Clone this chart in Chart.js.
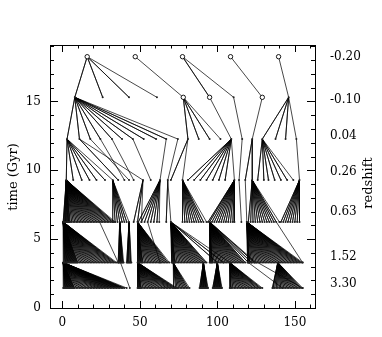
<!DOCTYPE html>
<html><head><meta charset="utf-8">
<script src="https://cdn.jsdelivr.net/npm/chart.js@4/dist/chart.umd.min.js"></script>
<style>html,body{margin:0;padding:0;background:#fff}</style>
</head><body>
<canvas id="c" width="382" height="337"></canvas>
<script>
// time (Gyr) of each tree tier, top (latest) to bottom (earliest)
const tierTimes = [18.25, 15.3, 12.27, 9.29, 6.25, 3.3, 1.45];
// right-axis redshift labels and where they sit on the time axis
const redshiftLabels = ['-0.20', '-0.10', '0.04', '0.26', '0.63', '1.52', '3.30'];
const redshiftLabelTimes = [18.23, 15.1, 12.5, 9.88, 6.97, 3.7, 1.75];
const xTickLabels = [0, 50, 100, 150];
const yTickLabels = [0, 5, 10, 15];

// each entry: [parent x, child x, child x, ...] between consecutive tiers
const links01 = [
  [16, 8, 26, 43, 61],
  [47, 78],
  [77.5, 95, 110.5],
  [108.5, 129],
  [139.5, 146]
];
const links12 = [
  [8, 3, 11, 18, 24.5, 32, 38.5, 45.5, 52.5, 60.5, 67, 74.5],
  [78, 81, 88, 95, 102],
  [95, 109],
  [110.5, 116],
  [129, 122.5],
  [146, 129, 137.5, 144, 151]
];
const links23 = [
  [3, 2.5, 7, 12.5, 17.5, 22, 27.5, 32.5],
  [11, 36, 52],
  [18, 43],
  [24.5, 40],
  [32, 46],
  [45.5, 57],
  [67, 63],
  [74.5, 68],
  [81, 70, 77.5],
  [109, 81, 85, 89, 93, 97, 101, 105, 111],
  [116, 114],
  [122.5, 118, 122.5],
  [129, 126, 130, 133, 137, 141, 145, 149],
  [151, 153]
];
const links34 = [
  [2.5, 0.5, 1, 1.5, 2, 2.5, 3, 3.5, 4, 4.5, 5, 6, 7, 8, 9, 10, 11, 12, 13, 14, 15, 16, 17, 18, 19, 20, 21, 22, 23, 24, 25, 26, 27, 28, 29, 30, 31, 32, 33, 34],
  [32.5, 32.5, 34, 35.5, 37, 38.5, 40, 41.5, 43],
  [52, 46, 48.5, 51],
  [63, 49, 51, 53, 55, 57, 59, 61, 62.5],
  [68, 67, 70],
  [77.5, 77.5, 79, 80.5, 82, 83.5, 85, 86.5, 88, 89.5, 91, 93],
  [111, 94, 95, 96.5, 98, 99.5, 101, 102.5, 104, 105.5, 107, 108.5, 110, 111],
  [114, 115.5],
  [118, 119],
  [122.5, 120, 121.5, 123, 124.5, 126, 127.5, 129, 130.5, 132, 133.5, 135, 136.5, 138, 140],
  [153, 141, 142.5, 144, 145.5, 147, 148.5, 150, 151.5, 153]
];
const links45 = [
  [0.5, 0.5, 1, 1.5, 2, 2.5, 3, 3.5, 4, 4.5, 5, 5.5, 6, 6.5, 7, 7.5, 8, 8.5, 9, 9.5, 10, 11, 12, 13, 14, 15, 16, 17, 18, 19, 20, 21, 22, 23, 24, 25, 26, 27, 28, 29, 30, 31, 32, 33, 34, 35],
  [24, 36],
  [37, 36, 36.5, 37, 37.5, 38, 38.5, 39, 39.5],
  [43, 41.5, 42, 42.5, 43, 43.5, 44, 44.5],
  [48.5, 48.5, 49, 49.5, 50, 50.5, 51, 51.5, 52, 53, 54, 55, 56, 57, 58, 59, 60, 61, 62, 63, 64, 65, 66, 67, 68, 69],
  [55, 63],
  [70, 70.5, 71, 71.5, 72, 72.5, 73, 74, 75, 76, 77, 78, 79, 80, 81, 82, 83, 84, 85, 86, 87, 88, 89, 90, 91, 92, 93, 100, 104, 108],
  [95, 95, 95.5, 96, 96.5, 97, 98, 99, 100, 101, 102, 103, 104, 105, 106, 107, 108, 109, 110, 111, 112, 113, 114, 115, 116, 117, 118, 120, 122, 124, 125],
  [119, 119.5, 120, 120.5, 121, 122, 123, 124, 125, 126, 127, 128, 129, 130, 131, 132, 133, 134, 135, 136, 137, 138, 139, 140, 141, 142, 143, 144, 145, 146, 147, 148, 149, 150, 151, 152, 153, 154, 155],
  [138, 155]
];
const links56 = [
  [0.5, 0.5, 1, 1.5, 2, 2.5, 3, 3.5, 4, 4.5, 5, 5.5, 6, 6.5, 7, 7.5, 8, 9, 10, 11, 12, 13, 14, 15, 16, 17, 18, 19, 20, 21, 22, 23, 24, 25, 26, 27, 28, 29, 30, 31, 32, 33, 34, 35, 36, 37, 38, 39, 40, 41.5],
  [37.5, 43.5],
  [48.5, 48.5, 49, 49.5, 50, 50.5, 51, 52, 53, 54, 55, 56, 57, 58, 59, 60, 61, 62, 63, 64, 65, 66, 67, 68, 69, 70, 71, 72, 73, 74],
  [71.5, 72, 73, 74, 75, 76, 77, 78, 79, 80, 81, 82],
  [91, 88.5, 89, 89.5, 90, 90.5, 91, 91.5, 92, 92.5, 93, 93.5, 94],
  [100, 97, 97.5, 98, 98.5, 99, 99.5, 100, 100.5, 101, 101.5, 102, 102.5, 103],
  [108, 108, 108.5, 109, 110, 111, 112, 113, 114, 115, 116, 117, 118, 119, 120, 121, 122, 123, 124, 125, 126, 127, 128, 129],
  [120, 142],
  [126, 155],
  [139, 135.5, 136, 137, 138, 139, 140, 141, 142, 143, 144, 145, 146, 147, 148, 149, 150, 151, 152, 153, 154, 155]
];
// tier-1 progenitors drawn with open rings
const ringedTier1 = [78, 95, 129];

const allLinks = [links01, links12, links23, links34, links45, links56];
const datasets = [];
const nodePts = [];
allLinks.forEach((level, k) => {
  level.forEach(fan => {
    const p = fan[0];
    const data = [];
    fan.slice(1).forEach(c => {
      data.push({x: p, y: tierTimes[k]}, {x: c, y: tierTimes[k + 1]});
      nodePts.push({x: c, y: tierTimes[k + 1]});
    });
    datasets.push({data, showLine: true, borderColor: 'rgba(0,0,0,0.9)', borderWidth: 0.8,
      pointRadius: 0, tension: 0, order: 3});
  });
});
datasets.push({data: nodePts, showLine: false, pointRadius: 1, pointBackgroundColor: '#222',
  pointBorderWidth: 0, order: 1});
datasets.push({data: links01.map(f => ({x: f[0], y: tierTimes[0]})).concat(ringedTier1.map(v => ({x: v, y: tierTimes[1]}))),
  showLine: false, pointRadius: 2.2, pointBackgroundColor: '#fff', pointBorderColor: '#000',
  pointBorderWidth: 0.9, order: 0});

const SERIF = '"DejaVu Serif", "Liberation Serif", serif';

const frame = {
  id: 'frame',
  afterDraw(chart) {
    const {ctx, chartArea: a, scales} = chart;
    const xs = scales.x, ys = scales.y;
    ctx.save();
    ctx.strokeStyle = '#000';
    ctx.lineWidth = 1;
    ctx.strokeRect(Math.round(a.left) + 0.5, Math.round(a.top) + 0.5, Math.round(a.right - a.left), Math.round(a.bottom - a.top));
    ctx.beginPath();
    for (let v = 0; v <= ys.max; v += 1) {
      const y = Math.round(ys.getPixelForValue(v)) + 0.5;
      const len = v % 5 === 0 ? 8 : 4;
      ctx.moveTo(a.left, y); ctx.lineTo(a.left + len, y);
      ctx.moveTo(a.right, y); ctx.lineTo(a.right - len, y);
    }
    for (let v = 0; v <= xs.max; v += 10) {
      const x = Math.round(xs.getPixelForValue(v)) + 0.5;
      const len = v % 50 === 0 ? 7 : 3.5;
      ctx.moveTo(x, a.bottom); ctx.lineTo(x, a.bottom - len);
      ctx.moveTo(x, a.top); ctx.lineTo(x, a.top + len);
    }
    ctx.stroke();
    ctx.fillStyle = '#000';
    ctx.font = '13px ' + SERIF;
    ctx.textAlign = 'center';
    ctx.textBaseline = 'middle';
    ctx.save(); ctx.translate(14, 177); ctx.rotate(-Math.PI / 2); ctx.fillText('time (Gyr)', 0, 0); ctx.restore();
    ctx.save(); ctx.translate(369, 183); ctx.rotate(-Math.PI / 2); ctx.fillText('redshift', 0, 0); ctx.restore();
    ctx.restore();
  }
};

new Chart(document.getElementById('c'), {
  type: 'scatter',
  data: {datasets},
  plugins: [frame],
  options: {
    responsive: false,
    animation: false,
    devicePixelRatio: 1,
    layout: {padding: {top: 45, left: 0, right: 0, bottom: 0}},
    plugins: {legend: {display: false}, tooltip: {enabled: false}},
    scales: {
      x: {
        type: 'linear', min: -8, max: 163,
        grid: {display: false, drawTicks: false}, border: {display: false},
        afterBuildTicks: s => { s.ticks = xTickLabels.map(v => ({value: v})); },
        afterFit: s => { s.height = 29; },
        ticks: {padding: 8, color: '#000', font: {family: SERIF, size: 12}, maxRotation: 0}
      },
      y: {
        type: 'linear', position: 'left', min: 0, max: 19.1,
        grid: {display: false, drawTicks: false}, border: {display: false},
        afterBuildTicks: s => { s.ticks = yTickLabels.map(v => ({value: v})); },
        afterFit: s => { s.width = 50; },
        ticks: {padding: 9, color: '#000', font: {family: SERIF, size: 12}}
      },
      y2: {
        type: 'linear', position: 'right', min: 0, max: 19.1,
        grid: {display: false, drawTicks: false}, border: {display: false},
        afterBuildTicks: s => { s.ticks = redshiftLabelTimes.map(v => ({value: v})); },
        afterFit: s => { s.width = 67; },
        ticks: {padding: 15, color: '#000', autoSkip: false, font: {family: SERIF, size: 12},
          callback: (v, i) => redshiftLabels[i]}
      }
    }
  }
});
</script>
</body></html>
